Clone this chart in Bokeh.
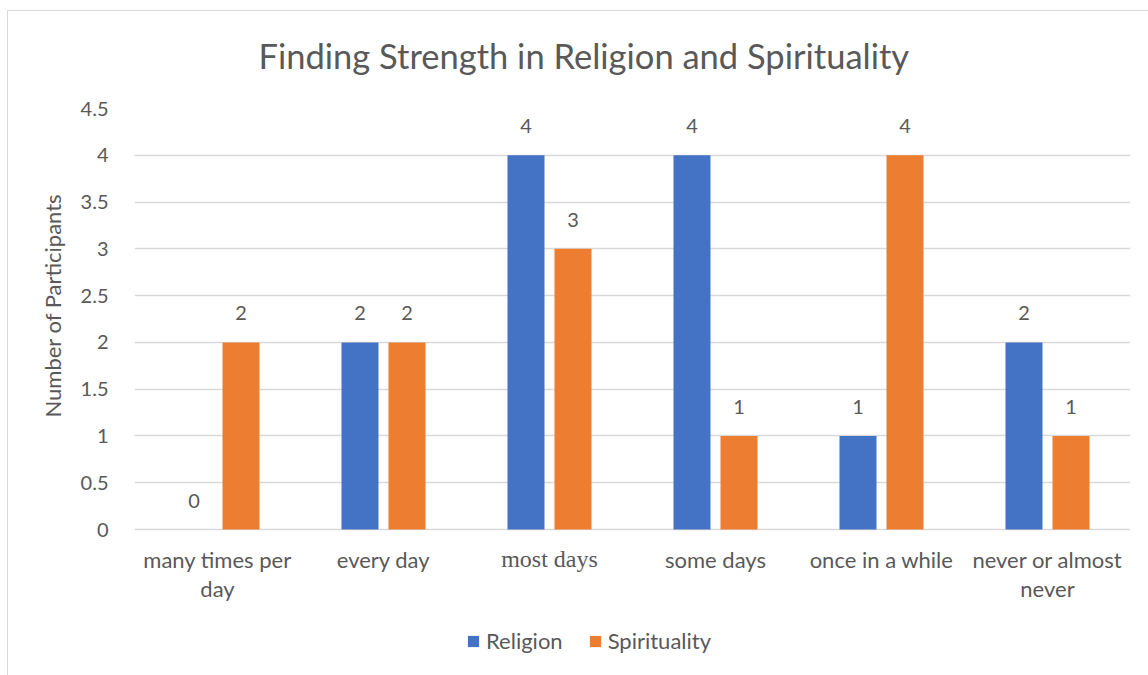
from bokeh.plotting import figure
from bokeh.models import (ColumnDataSource, FactorRange, Range1d, LabelSet, Legend,
                          LegendItem, InlineStyleSheet, Title)
from bokeh.core.properties import value
from bokeh.transform import dodge
from bokeh.embed import file_html
from bokeh.resources import INLINE

# --- data -------------------------------------------------------------
categories = ["many times per day", "every day", "most days", "some days",
              "once in a while", "never or almost never"]
# category labels wrap onto two lines where they are long
label_line1 = ["many times per", "every day", "most days", "some days",
               "once in a while", "never or almost"]
label_line2 = ["day", "", "", "", "", "never"]
category_fonts = ["Lato", "Lato", "Liberation Serif", "Lato", "Lato", "Lato"]
category_sizes = ["22px", "22px", "24px", "22px", "22px", "22px"]
religion = [0, 2, 4, 4, 1, 2]
spirituality = [2, 2, 3, 1, 4, 1]
y_ticks = [0, 0.5, 1, 1.5, 2, 2.5, 3, 3.5, 4, 4.5]

BLUE = "#4472C4"
ORANGE = "#ED7D31"
TEXT = "#595959"
GRID = "#D9D9D9"

src = ColumnDataSource(dict(
    cat=categories,
    line1=label_line1,
    line2=label_line2,
    font=category_fonts,
    size=category_sizes,
    religion=religion,
    spirituality=spirituality,
    rel_txt=[str(v) for v in religion],
    spi_txt=[str(v) for v in spirituality],
    zero=[0] * len(categories),
))

# the plot frame runs down to the bottom of the canvas so that the category
# labels and the legend can sit inside it, below the zero line
p = figure(width=1148, height=675, x_range=FactorRange(*categories),
           y_range=Range1d(-1.56, 4.5), output_backend="svg", toolbar_location=None,
           min_border_left=134, min_border_right=18, min_border_top=108,
           min_border_bottom=0)

p.background_fill_color = "white"
p.border_fill_color = "white"
p.outline_line_color = None

# title
p.title.text = "Finding Strength in Religion and Spirituality"
p.title.text_font = "Lato"
p.title.text_font_size = "34.5px"
p.title.text_font_style = "normal"
p.title.text_color = TEXT
p.title.align = "left"
p.title.offset = 124
p.title.standoff = 65

# bars
off = 0.1416
bw = 0.223
r1 = p.vbar(x=dodge("cat", -off, range=p.x_range), top="religion", width=bw,
            source=src, fill_color=BLUE, line_color=None)
r2 = p.vbar(x=dodge("cat", off, range=p.x_range), top="spirituality", width=bw,
            source=src, fill_color=ORANGE, line_color=None)

# value labels above bars
for col, txt, dx in (("religion", "rel_txt", -off), ("spirituality", "spi_txt", off)):
    p.add_layout(LabelSet(x=dodge("cat", dx, range=p.x_range), y=col, text=txt,
                          source=src, text_align="center", text_baseline="middle",
                          y_offset=29, text_font=value("Lato"), text_font_size="20px",
                          text_color=TEXT))

# category labels under the zero line, one LabelSet per text line
for col, dy in (("line1", -16), ("line2", -45)):
    p.add_layout(LabelSet(x="cat", y="zero", text=col, source=src,
                          text_align="center", text_baseline="top", y_offset=dy,
                          text_font={"field": "font"},
                          text_font_size={"field": "size"},
                          text_color=TEXT))

# axes
p.xaxis.visible = False

p.yaxis.ticker = y_ticks
p.yaxis.major_label_overrides = {t: ("%g" % t) for t in y_ticks}
p.yaxis.axis_line_color = None
p.yaxis.major_tick_line_color = None
p.yaxis.minor_tick_line_color = None
p.yaxis.major_label_text_font = "Lato"
p.yaxis.major_label_text_font_size = "20px"
p.yaxis.major_label_text_color = TEXT
p.yaxis.major_label_standoff = 20

# vertical axis title, pinned near the top of the left side
ytitle = Title(text="Number of Participants", align="right", offset=85,
               text_font="Lato", text_font_size="22px", text_font_style="normal",
               text_color=TEXT, standoff=24)
p.add_layout(ytitle, "left")

p.xgrid.grid_line_color = None
p.ygrid.grid_line_color = GRID
p.ygrid.grid_line_width = 1.5

# legend
legend = Legend(items=[LegendItem(label="Religion", renderers=[r1]),
                       LegendItem(label="Spirituality", renderers=[r2])],
                orientation="horizontal", location=(332, 21),
                glyph_width=14, glyph_height=14, label_standoff=6, spacing=25,
                padding=0, margin=0, border_line_color=None,
                background_fill_alpha=0,
                label_text_font="Lato", label_text_font_size="22px",
                label_text_color=TEXT)
p.add_layout(legend)

p.stylesheets = [InlineStyleSheet(css=(
    ":host::after{content:'';position:absolute;left:7px;top:10px;right:0;bottom:0;"
    "border-left:1.5px solid #D9D9D9;border-top:1.5px solid #D9D9D9;pointer-events:none;}"
))]

open("out.html", "w").write(file_html(p, INLINE))
